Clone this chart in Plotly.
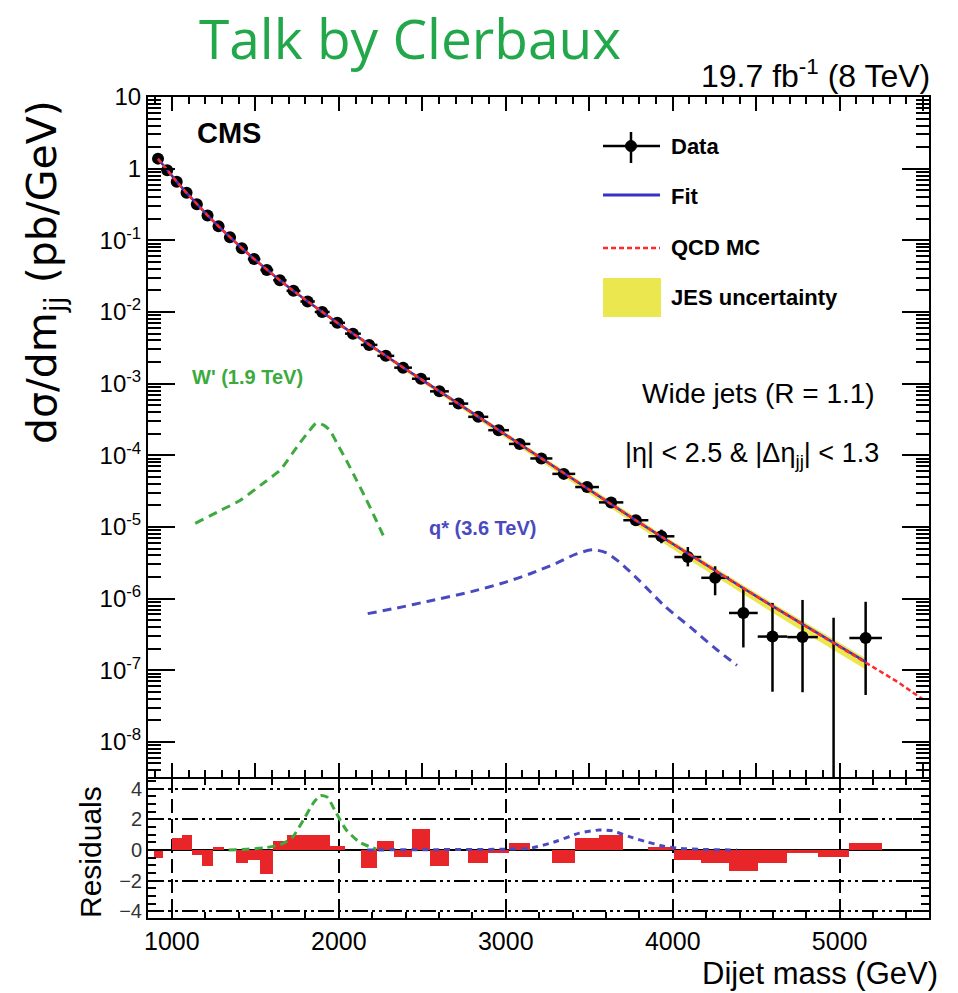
import plotly.graph_objects as go

# ---------------------------------------------------------------- data
# Dijet mass bin edges (GeV)
bin_edges = [890, 944, 1000, 1058, 1118, 1181, 1246, 1313, 1383, 1455, 1530,
             1607, 1687, 1770, 1856, 1945, 2037, 2132, 2231, 2332, 2438, 2546,
             2659, 2775, 2895, 3019, 3147, 3279, 3416, 3558, 3704, 3854, 4010,
             4171, 4337, 4509, 4686, 4869, 5058, 5253]

# Measured cross section per bin (pb/GeV); None = empty bin
data_xsec = [1.38, 0.951, 0.657, 0.460, 0.319, 0.222, 0.157, 0.110, 0.0774,
             0.0547, 0.0386, 0.0277, 0.0197, 0.0140, 0.0100, 0.00706, 0.00498,
             0.00347, 0.00244, 0.00167, 0.00117, 7.80e-4, 5.26e-4, 3.44e-4,
             2.24e-4, 1.44e-4, 9.03e-5, 5.50e-5, 3.60e-5, 2.20e-5, 1.24e-5,
             7.40e-6, 3.80e-6, 1.95e-6, 6.30e-7, 2.95e-7, 2.90e-7, None, 2.82e-7]

# Relative statistical uncertainties (up / down)
data_err_up = [0.001, 0.001, 0.001, 0.001, 0.001, 0.002, 0.002, 0.002, 0.003,
               0.003, 0.004, 0.004, 0.005, 0.006, 0.007, 0.009, 0.010, 0.012,
               0.014, 0.017, 0.020, 0.025, 0.030, 0.036, 0.043, 0.053, 0.066,
               0.082, 0.10, 0.13, 0.17, 0.24, 0.38, 0.45, 1.24, 1.95, 2.30,
               0.0, 2.20]
data_err_down = [0.001, 0.001, 0.001, 0.001, 0.001, 0.002, 0.002, 0.002, 0.003,
                 0.003, 0.004, 0.004, 0.005, 0.006, 0.007, 0.009, 0.010, 0.012,
                 0.014, 0.017, 0.020, 0.025, 0.030, 0.036, 0.043, 0.053, 0.066,
                 0.08, 0.095, 0.12, 0.15, 0.20, 0.26, 0.43, 0.67, 0.83, 0.83,
                 0.0, 0.84]

# Empty bin: upper limit only
empty_bin_mass = [4963.5]
empty_bin_limit = [5.4e-7]

# Fit to the spectrum, evaluated at bin centres (pb/GeV)
fit_xsec = [1.375, 0.950, 0.659, 0.4585, 0.3197, 0.2233, 0.1566, 0.1101,
            0.0776, 0.05483, 0.03886, 0.02761, 0.01963, 0.01398, 0.009975,
            0.007047, 0.004981, 0.003489, 0.002430, 0.001680, 0.001154,
            7.866e-4, 5.257e-4, 3.461e-4, 2.244e-4, 1.433e-4, 9.03e-5, 5.61e-5,
            3.425e-5, 2.067e-5, 1.235e-5, 7.30e-6, 4.25e-6, 2.446e-6, 1.393e-6,
            7.84e-7, 4.365e-7, 2.404e-7, 1.309e-7]

# QCD MC prediction (normalised), extends beyond the last data bin
qcd_mc_mass = [917, 972, 1029, 1088, 1149.5, 1213.5, 1279.5, 1348, 1419,
               1492.5, 1568.5, 1647, 1728.5, 1813, 1900.5, 1991, 2084.5,
               2181.5, 2281.5, 2385, 2492, 2602.5, 2717, 2835, 2957, 3083,
               3213, 3347.5, 3487, 3631, 3779, 3932, 4090.5, 4254, 4423,
               4597.5, 4777.5, 4963.5, 5155.5, 5350, 5500]
qcd_mc_xsec = [1.37, 0.948, 0.658, 0.458, 0.320, 0.2235, 0.1565, 0.1100,
               0.0776, 0.0548, 0.0389, 0.0276, 0.0196, 0.0140, 0.00998,
               0.00705, 0.00498, 0.00349, 0.00243, 0.00168, 0.001155, 7.87e-4,
               5.26e-4, 3.46e-4, 2.245e-4, 1.433e-4, 9.03e-5, 5.61e-5, 3.425e-5,
               2.067e-5, 1.235e-5, 7.30e-6, 4.25e-6, 2.446e-6, 1.393e-6,
               7.84e-7, 4.365e-7, 2.404e-7, 1.309e-7, 6.8e-8, 3.9e-8]

# Jet energy scale uncertainty (relative, up / down)
jes_up = [0.03, 0.03, 0.03, 0.03, 0.03, 0.03, 0.035, 0.035, 0.035, 0.04,
          0.04, 0.04, 0.045, 0.045, 0.05, 0.05, 0.05, 0.055, 0.055, 0.06,
          0.06, 0.065, 0.065, 0.07, 0.07, 0.075, 0.08, 0.08, 0.085, 0.09,
          0.09, 0.095, 0.10, 0.10, 0.105, 0.11, 0.115, 0.12, 0.12]
jes_down = [0.03, 0.03, 0.03, 0.035, 0.035, 0.035, 0.04, 0.04, 0.045, 0.045,
            0.05, 0.05, 0.055, 0.055, 0.06, 0.06, 0.065, 0.07, 0.07, 0.075,
            0.08, 0.085, 0.09, 0.095, 0.10, 0.105, 0.11, 0.12, 0.125, 0.13,
            0.14, 0.15, 0.16, 0.17, 0.18, 0.19, 0.20, 0.21, 0.22]

# Signal shapes
wprime_mass = [1140, 1300, 1408, 1530, 1647, 1690, 1720, 1766, 1820, 1866,
               1910, 1945, 2000, 2045, 2100, 2165, 2220, 2274]
wprime_xsec = [1.12e-5, 1.74e-5, 2.34e-5, 3.80e-5, 6.17e-5, 8.30e-5, 1.05e-4,
               1.48e-4, 2.14e-4, 2.82e-4, 2.63e-4, 2.24e-4, 1.32e-4, 8.51e-5,
               4.79e-5, 2.40e-5, 1.29e-5, 6.92e-6]
qstar_mass = [2173, 2350, 2530, 2800, 3000, 3150, 3300, 3420, 3520, 3600,
              3680, 3800, 3950, 4116, 4256, 4385]
qstar_xsec = [6.17e-7, 7.41e-7, 9.12e-7, 1.26e-6, 1.70e-6, 2.24e-6, 3.09e-6,
              4.17e-6, 4.79e-6, 4.37e-6, 3.24e-6, 1.78e-6, 7.94e-7, 3.80e-7,
              2.00e-7, 1.17e-7]

# Residuals (data - fit) / sigma per bin
residuals = [-0.50, 0.0, 0.76, 0.98, -0.33, -1.02, 0.20, 0.0, -0.87, -0.65,
             -1.57, 0.60, 0.98, 0.98, 0.98, 0.26, 0.0, -1.20, 0.59, -0.48,
             1.35, -1.04, 0.0, -0.83, -0.20, 0.43, 0.0, -0.83, 0.76, 0.98,
             0.0, 0.22, -0.65, -0.87, -1.37, -0.83, -0.17, -0.48, 0.43]

# Signal shapes in residual units
wprime_res_mass = [1340, 1450, 1560, 1650, 1720, 1790, 1850, 1890, 1930,
                   1985, 2045, 2125, 2225]
wprime_res = [0.0, 0.05, 0.15, 0.35, 0.80, 2.0, 3.1, 3.55, 3.45, 2.4, 1.3,
              0.5, 0.05]
qstar_res_mass = [2170, 2600, 3000, 3150, 3300, 3440, 3560, 3640, 3740,
                  3840, 3940, 4040, 4200, 4385]
qstar_res = [0.0, 0.02, 0.05, 0.12, 0.55, 1.10, 1.30, 1.25, 0.87, 0.54,
             0.26, 0.10, 0.03, 0.0]

y_decades = [1, 0.1, 1e-2, 1e-3, 1e-4, 1e-5, 1e-6, 1e-7, 1e-8, 10]
y_decade_labels = ["1", "10<sup>-1</sup>", "10<sup>-2</sup>", "10<sup>-3</sup>",
                   "10<sup>-4</sup>", "10<sup>-5</sup>", "10<sup>-6</sup>",
                   "10<sup>-7</sup>", "10<sup>-8</sup>", "10"]
x_tick_vals = [1000, 2000, 3000, 4000, 5000]
res_tick_vals = [-4, -2, 0, 2, 4]

# ---------------------------------------------------------------- derived
centers = [(a + b) / 2 for a, b in zip(bin_edges[:-1], bin_edges[1:])]
half_w = [(b - a) / 2 for a, b in zip(bin_edges[:-1], bin_edges[1:])]
widths = [b - a for a, b in zip(bin_edges[:-1], bin_edges[1:])]

pts = [(c, v, h, u, d) for c, v, h, u, d in
       zip(centers, data_xsec, half_w, data_err_up, data_err_down) if v is not None]
dx = [p[0] for p in pts]
dy = [p[1] for p in pts]
dh = [p[2] for p in pts]
dup = [p[1] * p[3] for p in pts]
ddn = [p[1] * p[4] for p in pts]

jes_hi = [f * (1 + u) for f, u in zip(fit_xsec, jes_up)]
jes_lo = [f * (1 - d) for f, d in zip(fit_xsec, jes_down)]

# ---------------------------------------------------------------- style
FONT = "Liberation Sans"
BLUE = "#3434c4"
RED = "#ff2a2a"
GREEN = "#3caa3c"
QBLUE = "#4a4ac0"
YELLOW = "#ebe84f"
BAR_RED = "#e8262a"

W, H = 958, 993
L, R, T, B = 148, 929, 97, 918
MAIN_BOTTOM, RES_TOP = 777, 779


def px(X):
    return (X - L) / (R - L)


def py(Y):
    return (B - Y) / (B - T)


XRANGE = [857, 5535]

fig = go.Figure()

# JES band
fig.add_trace(go.Scatter(x=centers, y=jes_lo, mode="lines", line=dict(width=0),
                         hoverinfo="skip", showlegend=False, xaxis="x", yaxis="y"))
fig.add_trace(go.Scatter(x=centers, y=jes_hi, mode="lines", line=dict(width=0),
                         fill="tonexty", fillcolor=YELLOW, showlegend=False,
                         name="JES uncertainty", xaxis="x", yaxis="y"))

# Data
fig.add_trace(go.Scatter(
    x=dx, y=dy, mode="markers", name="Data", showlegend=False,
    marker=dict(color="black", size=12, symbol="circle"),
    error_x=dict(type="data", array=dh, color="black", thickness=2.5, width=0),
    error_y=dict(type="data", symmetric=False, array=dup, arrayminus=ddn,
                 color="black", thickness=2.5, width=0),
    xaxis="x", yaxis="y"))
fig.add_trace(go.Scatter(
    x=empty_bin_mass, y=[1e-12], mode="markers", showlegend=False,
    marker=dict(size=0.1, color="black"),
    error_y=dict(type="data", symmetric=False, array=empty_bin_limit,
                 arrayminus=[0], color="black", thickness=2.5, width=0),
    xaxis="x", yaxis="y"))

# Fit and QCD MC
fig.add_trace(go.Scatter(x=centers, y=fit_xsec, mode="lines", name="Fit",
                         line=dict(color=BLUE, width=2.5), showlegend=False,
                         xaxis="x", yaxis="y"))
fig.add_trace(go.Scatter(x=qcd_mc_mass, y=qcd_mc_xsec, mode="lines", name="QCD MC",
                         line=dict(color=RED, width=2.5, dash="5px,3px"),
                         showlegend=False, xaxis="x", yaxis="y"))

# Signals
fig.add_trace(go.Scatter(x=wprime_mass, y=wprime_xsec, mode="lines",
                         line=dict(color=GREEN, width=3, dash="9px,6px",
                                   shape="spline", smoothing=0.6),
                         showlegend=False, xaxis="x", yaxis="y"))
fig.add_trace(go.Scatter(x=qstar_mass, y=qstar_xsec, mode="lines",
                         line=dict(color=QBLUE, width=3, dash="9px,6px",
                                   shape="spline", smoothing=0.8),
                         showlegend=False, xaxis="x", yaxis="y"))

# Residual panel
fig.add_trace(go.Bar(x=centers, y=residuals, width=widths, marker=dict(
    color=BAR_RED, line=dict(width=0)), showlegend=False, xaxis="x2", yaxis="y2"))
fig.add_trace(go.Scatter(x=wprime_res_mass, y=wprime_res, mode="lines",
                         line=dict(color=GREEN, width=3, dash="8px,5px",
                                   shape="spline", smoothing=0.6),
                         showlegend=False, xaxis="x2", yaxis="y2"))
fig.add_trace(go.Scatter(x=qstar_res_mass, y=qstar_res, mode="lines",
                         line=dict(color=QBLUE, width=3, dash="6px,5px",
                                   shape="spline", smoothing=0.6),
                         showlegend=False, xaxis="x2", yaxis="y2"))

main_dom_lo = py(MAIN_BOTTOM)
res_dom_hi = py(RES_TOP)

axis_common = dict(showline=True, linecolor="black", linewidth=2, mirror="ticks",
                   ticks="inside", tickcolor="black", tickwidth=2,
                   zeroline=False, showgrid=False)

fig.update_layout(
    width=W, height=H,
    margin=dict(l=L, r=W - R, t=T, b=H - B),
    paper_bgcolor="white", plot_bgcolor="white",
    font=dict(family=FONT, color="black"),
    showlegend=False,
    bargap=0,
    xaxis=dict(domain=[0, 1], anchor="y", range=XRANGE, dtick=500, tick0=0,
               ticklen=14, showticklabels=False,
               minor=dict(ticks="inside", dtick=100, ticklen=7, tickwidth=2,
                          tickcolor="black"),
               **axis_common),
    yaxis=dict(domain=[main_dom_lo, 1], anchor="x", type="log",
               range=[-8.49, 1.0], tickvals=y_decades, ticktext=y_decade_labels,
               ticklen=27, tickfont=dict(size=24, family=FONT),
               minor=dict(ticks="inside", ticklen=13, tickwidth=2,
                          tickcolor="black", dtick="D1"),
               **axis_common),
    xaxis2=dict(domain=[0, 1], anchor="y2", matches="x", range=XRANGE,
                tickvals=x_tick_vals, ticklen=12,
                tickfont=dict(size=25, family=FONT),
                minor=dict(ticks="inside", dtick=200, tick0=0, ticklen=6,
                           tickwidth=2, tickcolor="black"),
                **{**axis_common, "showgrid": True, "gridcolor": "black",
                   "gridwidth": 2, "griddash": "14px,6px"}),
    yaxis2=dict(domain=[0, res_dom_hi], anchor="x2", range=[-4.44, 4.63],
                tickvals=res_tick_vals, ticklen=16,
                tickfont=dict(size=20, family=FONT, color="#333333"),
                minor=dict(ticks="inside", dtick=0.5, ticklen=8, tickwidth=2,
                           tickcolor="black"),
                **{**axis_common, "showgrid": True, "gridcolor": "black",
                   "gridwidth": 2, "griddash": "16px,4px,3px,4px,3px,4px",
                   "zeroline": True, "zerolinecolor": "black",
                   "zerolinewidth": 2}),
)

annotations = []


def note(text, X, Y, size, color="black", xanchor="center", bold=False,
         family=FONT, angle=0):
    annotations.append(dict(
        text=f"<b>{text}</b>" if bold else text, x=px(X), y=py(Y),
        xref="paper", yref="paper", xanchor=xanchor, yanchor="middle",
        showarrow=False, textangle=angle,
        font=dict(size=size, color=color, family=family)))


note("Talk by Clerbaux", 410, 38, 55, color="#22a84a", family="Open Sans")
note("19.7 fb<sup>-1</sup> (8 TeV)", 932, 74, 32, xanchor="right")
note("CMS", 195, 133, 29, xanchor="left", bold=True)
note("Data", 669, 146, 22, xanchor="left", bold=True)
note("Fit", 669, 196, 22, xanchor="left", bold=True)
note("QCD MC", 669, 247, 22, xanchor="left", bold=True)
note("JES uncertainty", 669, 297, 22, xanchor="left", bold=True)
note("W' (1.9 TeV)", 190, 377, 20, color=GREEN, xanchor="left", bold=True)
note("q* (3.6 TeV)", 427, 528, 20, color=QBLUE, xanchor="left", bold=True)
note("Wide jets (R = 1.1)", 877, 393, 28, xanchor="right")
note("|η| < 2.5 & |Δη<sub>jj</sub>| < 1.3", 881, 455, 27, xanchor="right")
note("dσ/dm<sub>jj</sub> (pb/GeV)", 45, 272, 41, angle=-90, family="DejaVu Sans")
note("Residuals", 90, 852, 30, angle=-90)
note("Dijet mass (GeV)", 940, 974, 31, xanchor="right")

fig.update_layout(annotations=annotations)

# Legend keys
shapes = [
    dict(type="line", x0=px(603), x1=px(660), y0=py(146), y1=py(146),
         xref="paper", yref="paper", line=dict(color="black", width=2.5)),
    dict(type="line", x0=px(631), x1=px(631), y0=py(132), y1=py(163),
         xref="paper", yref="paper", line=dict(color="black", width=2.5)),
    dict(type="circle", x0=px(625.5), x1=px(636.5), y0=py(151.5), y1=py(140.5),
         xref="paper", yref="paper", fillcolor="black",
         line=dict(color="black", width=1)),
    dict(type="line", x0=px(603), x1=px(660), y0=py(195), y1=py(195),
         xref="paper", yref="paper", line=dict(color=BLUE, width=3)),
    dict(type="line", x0=px(603), x1=px(660), y0=py(248), y1=py(248),
         xref="paper", yref="paper", line=dict(color=RED, width=2.5, dash="5px,3px")),
    dict(type="rect", x0=px(603), x1=px(661), y0=py(317), y1=py(278),
         xref="paper", yref="paper", fillcolor=YELLOW, line=dict(width=0)),
]
fig.update_layout(shapes=shapes)

fig.write_html("out.html")
